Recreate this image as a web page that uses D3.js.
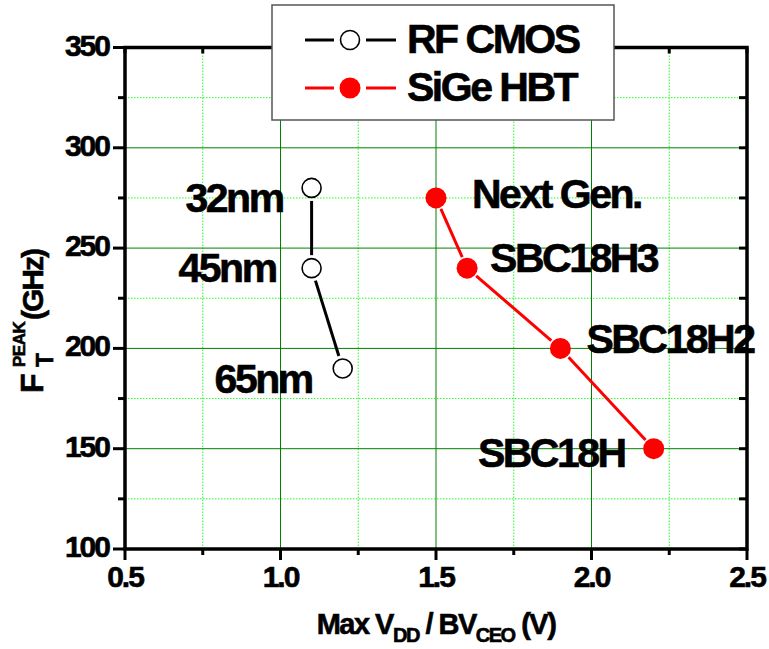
<!DOCTYPE html>
<html>
<head>
<meta charset="utf-8">
<script src="https://cdn.jsdelivr.net/npm/d3@7"></script>
<style>
  body { margin: 0; background: #fff; }
  svg text { font-family: "Liberation Sans", Arial, sans-serif; font-weight: bold; fill: #000; stroke: #000; stroke-width: 0.6px; }
</style>
</head>
<body>
<svg id="chart" width="769" height="649"></svg>
<script>
// ---- data ----
const cmosV = [1.1, 1.1, 1.2];
const cmosFt = [280, 240, 190];
const cmosNames = ["32nm", "45nm", "65nm"];

const sigeV = [1.5, 1.6, 1.9, 2.2];
const sigeFt = [275, 240, 200, 150];
const sigeNames = ["Next Gen.", "SBC18H3", "SBC18H2", "SBC18H"];

const xTicks = [0.5, 1.0, 1.5, 2.0, 2.5];
const xMinor = [0.75, 1.25, 1.75, 2.25];
const yTicks = [100, 150, 200, 250, 300, 350];
const yMinor = [125, 175, 225, 275, 325];

const seriesNames = ["RF CMOS", "SiGe HBT"];

// label placement (pixel offsets from the point, anchor)
const cmosLabelPos = [[-29, 24, "end"], [-36, 14, "end"], [-31, 25, "end"]];
const sigeLabelPos = [[36, 10, "start"], [23, 4, "start"], [26, 5, "start"], [-29, 18, "end"]];

/* ----- scales ----- */
const svg = d3.select("#chart");
const x = d3.scaleLinear().domain([0.5, 2.5]).range([125, 747]);
const y = d3.scaleLinear().domain([100, 350]).range([549, 47.5]);
const [x0, x1] = x.range();
const [y0, y1] = y.range();

/* ----- grid ----- */
const grid = svg.append("g").attr("id", "grid");
grid.selectAll(".vmin").data(xMinor).join("line")
    .attr("x1", d => x(d)).attr("x2", d => x(d)).attr("y1", y0).attr("y2", y1)
    .attr("stroke", "#22ff22").attr("stroke-width", 1).attr("stroke-dasharray", "1.5,1.5");
grid.selectAll(".hmin").data(yMinor).join("line")
    .attr("y1", d => y(d)).attr("y2", d => y(d)).attr("x1", x0).attr("x2", x1)
    .attr("stroke", "#22ff22").attr("stroke-width", 1).attr("stroke-dasharray", "1.5,1.5");
grid.selectAll(".vmaj").data(xTicks.slice(1, -1)).join("line")
    .attr("x1", d => x(d)).attr("x2", d => x(d)).attr("y1", y0).attr("y2", y1)
    .attr("stroke", "#008000").attr("stroke-width", 1);
grid.selectAll(".hmaj").data(yTicks.slice(1, -1)).join("line")
    .attr("y1", d => y(d)).attr("y2", d => y(d)).attr("x1", x0).attr("x2", x1)
    .attr("stroke", "#008000").attr("stroke-width", 1);

/* ----- series ----- */
const cmos = cmosV.map((v, i) => ({v: v, f: cmosFt[i], name: cmosNames[i], pos: cmosLabelPos[i]}));
const sige = sigeV.map((v, i) => ({v: v, f: sigeFt[i], name: sigeNames[i], pos: sigeLabelPos[i]}));

// Origin-style gapped segments between markers
function segments(pts, gap) {
    let out = [];
    for (let i = 0; i < pts.length - 1; i++) {
        let ax = x(pts[i].v), ay = y(pts[i].f), bx = x(pts[i + 1].v), by = y(pts[i + 1].f);
        let len = Math.hypot(bx - ax, by - ay), ux = (bx - ax) / len, uy = (by - ay) / len;
        out.push([ax + ux * gap, ay + uy * gap, bx - ux * gap, by - uy * gap]);
    }
    return out;
}

const plot = svg.append("g").attr("id", "plot");
plot.selectAll(".cmosSeg").data(segments(cmos, 13)).join("line")
    .attr("x1", d => d[0]).attr("y1", d => d[1]).attr("x2", d => d[2]).attr("y2", d => d[3])
    .attr("stroke", "#000").attr("stroke-width", 3);
plot.selectAll(".sigeSeg").data(segments(sige, 12)).join("line")
    .attr("x1", d => d[0]).attr("y1", d => d[1]).attr("x2", d => d[2]).attr("y2", d => d[3])
    .attr("stroke", "#ff0000").attr("stroke-width", 3);

plot.selectAll(".cmosPt").data(cmos).join("circle")
    .attr("cx", d => x(d.v)).attr("cy", d => y(d.f)).attr("r", 9.5)
    .attr("fill", "#fff").attr("stroke", "#000").attr("stroke-width", 1.6);
plot.selectAll(".sigePt").data(sige).join("circle")
    .attr("cx", d => x(d.v)).attr("cy", d => y(d.f)).attr("r", 10.5)
    .attr("fill", "#ff0000");

plot.selectAll(".lbl").data(cmos.concat(sige)).join("text")
    .attr("x", d => x(d.v) + d.pos[0]).attr("y", d => y(d.f) + d.pos[1])
    .attr("text-anchor", d => d.pos[2])
    .style("font-size", "41px").style("letter-spacing", "-2.5px")
    .text(d => d.name);

/* ----- axes frame ----- */
const frame = svg.append("g").attr("id", "frame");
// left axis ticks (outward)
frame.selectAll(".ltick").data(yTicks).join("line")
    .attr("x1", x0 - 12).attr("x2", x0).attr("y1", d => y(d)).attr("y2", d => y(d))
    .attr("stroke", "#000").attr("stroke-width", 3);
frame.selectAll(".ltickm").data(yMinor).join("line")
    .attr("x1", x0 - 7).attr("x2", x0).attr("y1", d => y(d)).attr("y2", d => y(d))
    .attr("stroke", "#000").attr("stroke-width", 3);
// right axis ticks (inward)
frame.selectAll(".rtick").data(yTicks.concat(yMinor)).join("line")
    .attr("x1", x1 - 8).attr("x2", x1).attr("y1", d => y(d)).attr("y2", d => y(d))
    .attr("stroke", "#000").attr("stroke-width", 3);
// bottom ticks (outward)
frame.selectAll(".btick").data(xTicks).join("line")
    .attr("x1", d => x(d)).attr("x2", d => x(d)).attr("y1", y0).attr("y2", y0 + 11)
    .attr("stroke", "#000").attr("stroke-width", 3);
frame.selectAll(".btickm").data(xMinor).join("line")
    .attr("x1", d => x(d)).attr("x2", d => x(d)).attr("y1", y0).attr("y2", y0 + 6)
    .attr("stroke", "#000").attr("stroke-width", 3);
// top ticks (inward)
frame.selectAll(".ttick").data(xTicks.concat(xMinor)).join("line")
    .attr("x1", d => x(d)).attr("x2", d => x(d)).attr("y1", y1).attr("y2", y1 + 6)
    .attr("stroke", "#000").attr("stroke-width", 3);
frame.append("rect")
    .attr("x", x0).attr("y", y1).attr("width", x1 - x0).attr("height", y0 - y1)
    .attr("fill", "none").attr("stroke", "#000").attr("stroke-width", 3.5);

// tick labels
frame.selectAll(".ylab").data(yTicks).join("text")
    .attr("x", x0 - 16).attr("y", d => y(d) + 8)
    .attr("text-anchor", "end")
    .style("font-size", "30px").style("letter-spacing", "-2px")
    .text(d => d);
frame.selectAll(".xlab").data(xTicks).join("text")
    .attr("x", d => x(d)).attr("y", y0 + 38)
    .attr("text-anchor", "middle")
    .style("font-size", "30px").style("letter-spacing", "-2px")
    .text(d => d3.format(".1f")(d));

/* ----- axis titles ----- */
const xt = svg.append("text")
    .attr("x", (x0 + x1) / 2).attr("y", 634)
    .attr("text-anchor", "middle")
    .style("font-size", "29px").style("letter-spacing", "-1.5px");
xt.append("tspan").text("Max V");
xt.append("tspan").attr("dy", 8).style("font-size", "20px").text("DD");
xt.append("tspan").attr("dy", -8).text(" / BV");
xt.append("tspan").attr("dy", 8).style("font-size", "20px").text("CEO");
xt.append("tspan").attr("dy", -8).text(" (V)");

const yt = svg.append("g").attr("transform", "translate(43,393) rotate(-90)");
yt.append("text").attr("x", 0).attr("y", 0)
    .style("font-size", "32px").text("F");
yt.append("text").attr("x", 26).attr("y", -18)
    .style("font-size", "17px").style("letter-spacing", "-0.5px").text("PEAK");
yt.append("text").attr("x", 26).attr("y", 10)
    .style("font-size", "23px").text("T");
yt.append("text").attr("x", 73).attr("y", 0)
    .style("font-size", "30px").style("letter-spacing", "-2px").text("(GHz)");

/* ----- legend ----- */
const leg = svg.append("g").attr("id", "legend");
leg.append("rect")
    .attr("x", 272).attr("y", 5).attr("width", 342).attr("height", 115)
    .attr("fill", "#fff").attr("stroke", "#555").attr("stroke-width", 1.5);
const legRows = [
    {name: seriesNames[0], cy: 40, color: "#000", open: true},
    {name: seriesNames[1], cy: 88, color: "#ff0000", open: false}
];
legRows.forEach(r => {
    leg.append("line").attr("x1", 305).attr("x2", 334).attr("y1", r.cy).attr("y2", r.cy)
        .attr("stroke", r.color).attr("stroke-width", 3);
    leg.append("line").attr("x1", 366).attr("x2", 396).attr("y1", r.cy).attr("y2", r.cy)
        .attr("stroke", r.color).attr("stroke-width", 3);
    leg.append("circle").attr("cx", 350).attr("cy", r.cy).attr("r", r.open ? 9.5 : 10.5)
        .attr("fill", r.open ? "#fff" : r.color)
        .attr("stroke", r.open ? "#000" : "none").attr("stroke-width", 1.6);
    leg.append("text").attr("x", 407).attr("y", r.cy + 13)
        .style("font-size", "41px").style("letter-spacing", "-2.5px")
        .text(r.name);
});
</script>
</body>
</html>
